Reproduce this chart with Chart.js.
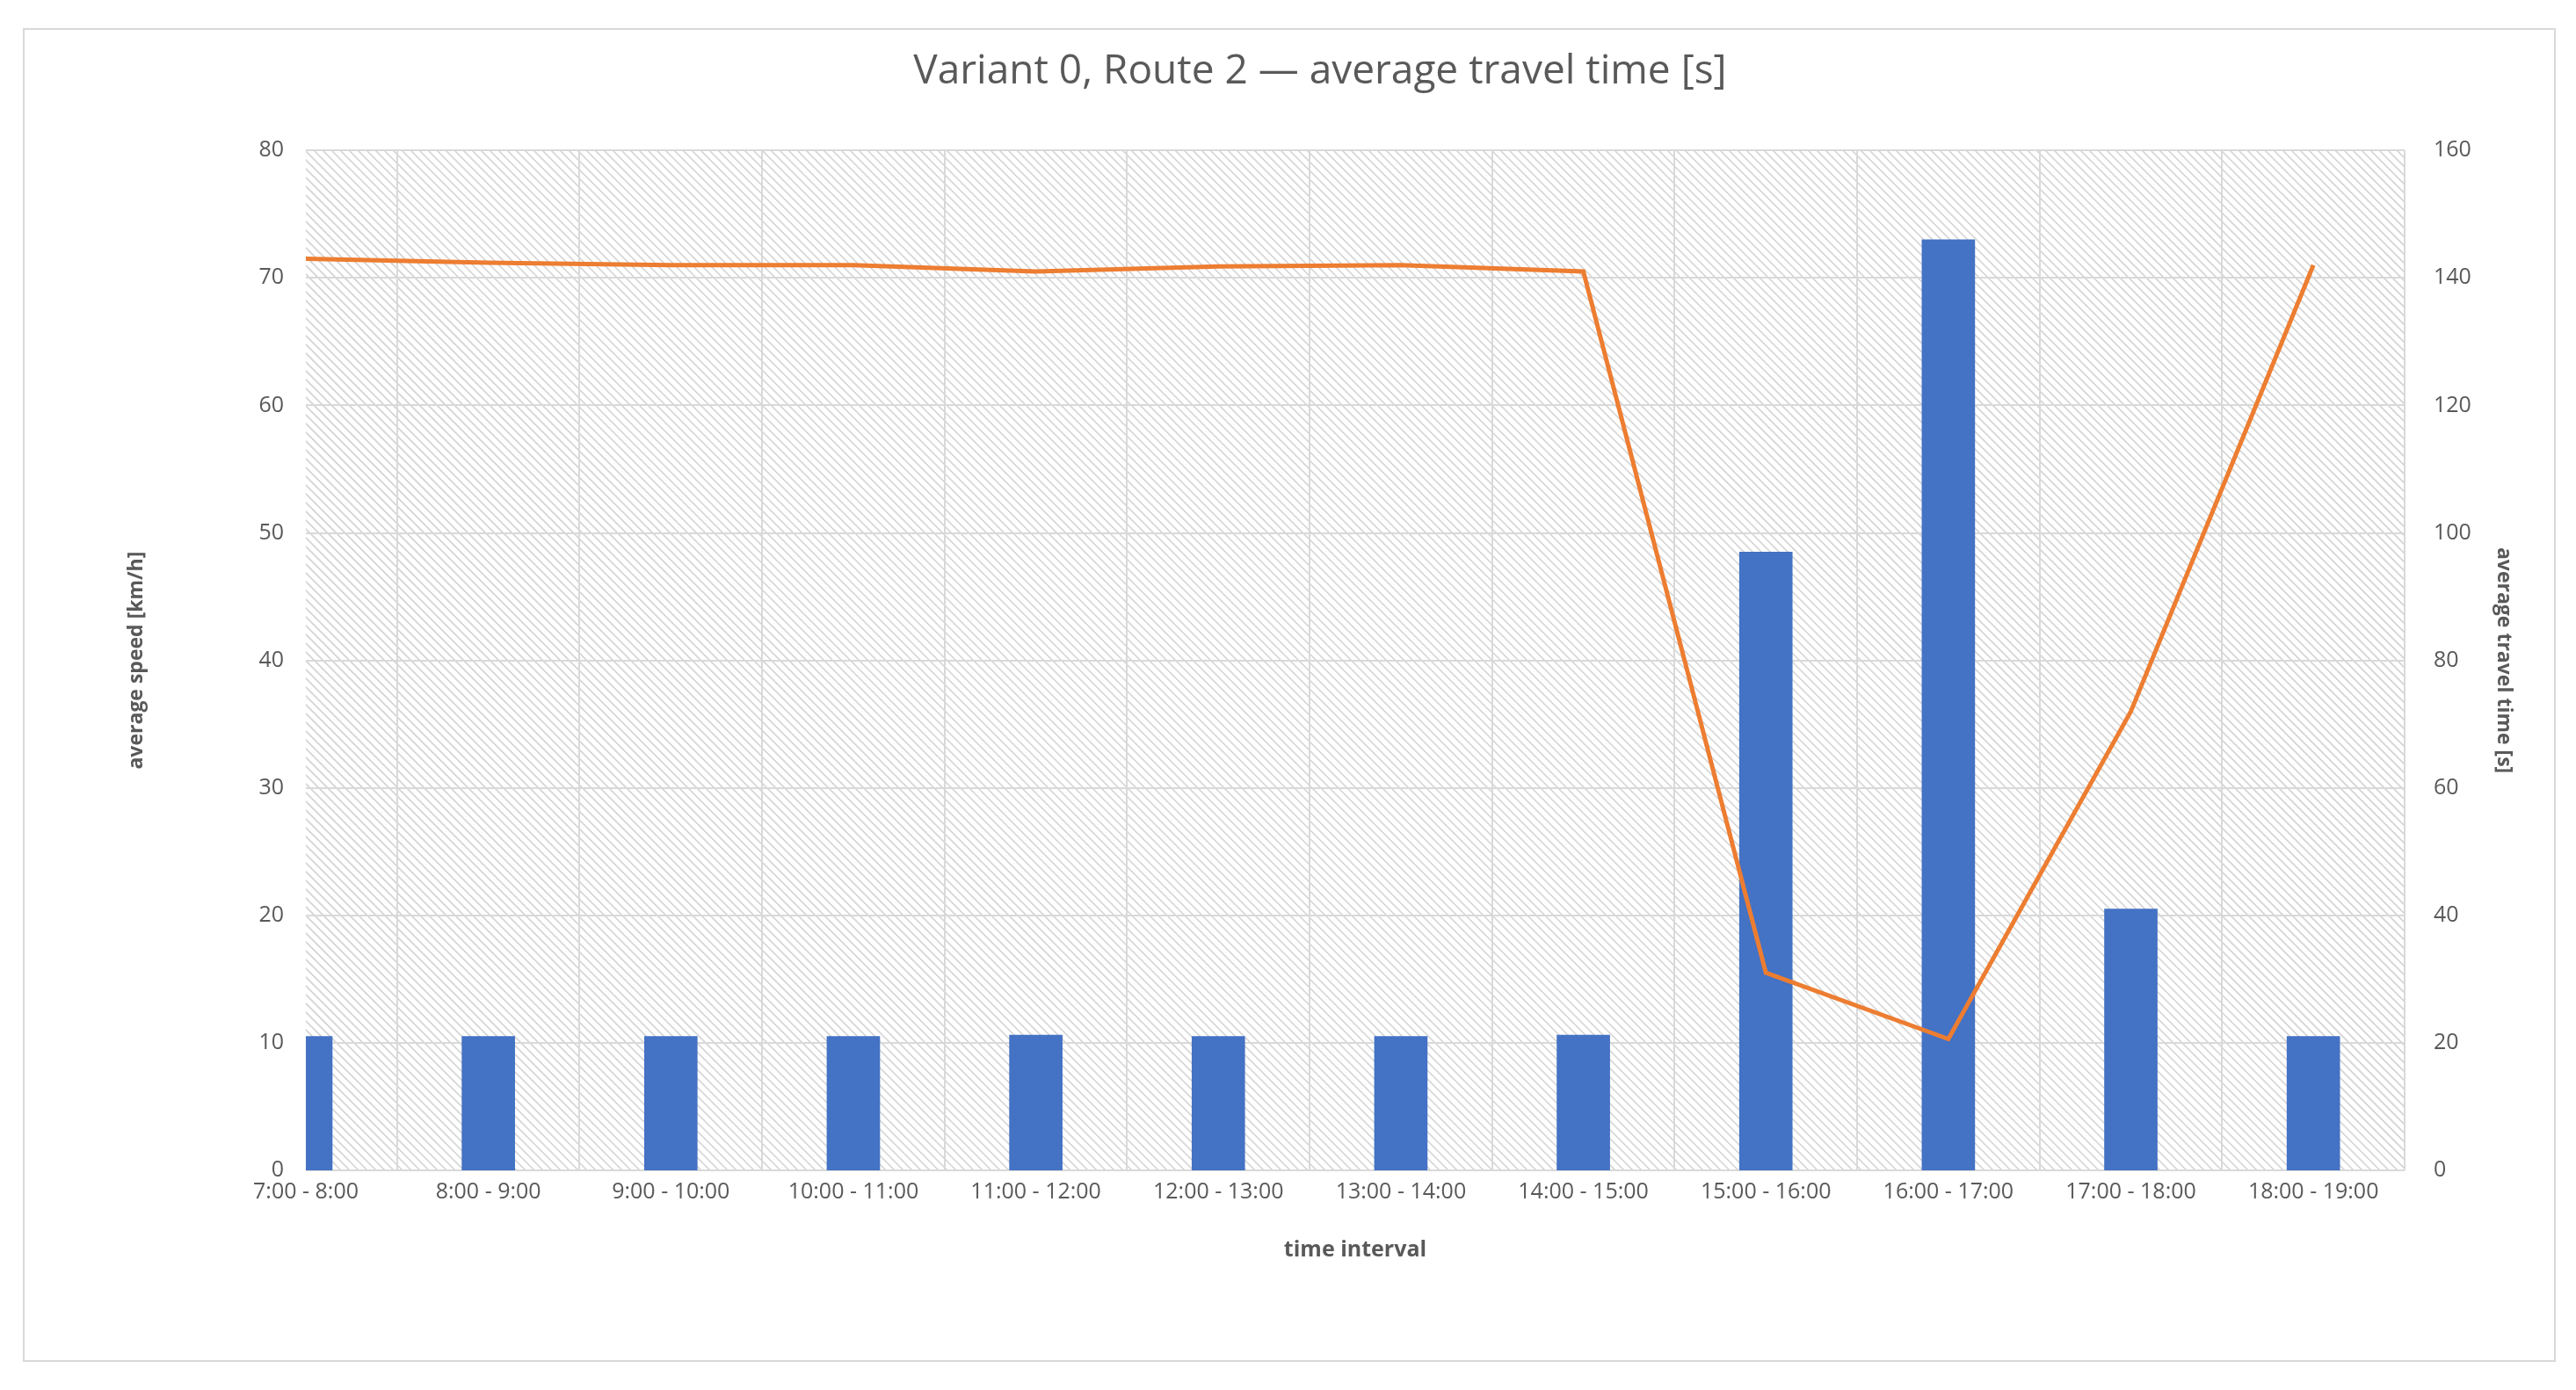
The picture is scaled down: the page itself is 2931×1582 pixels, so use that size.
<!DOCTYPE html>
<html>
<head>
<meta charset="utf-8">
<script src="https://cdn.jsdelivr.net/npm/chart.js@4"></script>
<style>
  body { margin: 0; background: #fff; }
  #box { position: absolute; left: 26px; top: 32px; width: 2878px; height: 1514px; border: 2px solid #d9d9d9; }
</style>
</head>
<body>
<div id="box"><canvas id="chart" width="2878" height="1514"></canvas></div>
<script>
const categories = ['7:00 - 8:00', '8:00 - 9:00', '9:00 - 10:00', '10:00 - 11:00', '11:00 - 12:00', '12:00 - 13:00',
    '13:00 - 14:00', '14:00 - 15:00', '15:00 - 16:00', '16:00 - 17:00', '17:00 - 18:00', '18:00 - 19:00'];
const travelTime = [21, 21, 21, 21, 21.2, 21, 21, 21.2, 97, 146, 41, 21];
const avgSpeed = [71.5, 71.2, 71, 71, 70.5, 70.9, 71, 70.5, 15.5, 10.3, 36, 71];
const speedTicks = [0, 10, 20, 30, 40, 50, 60, 70, 80];
const timeTicks = [0, 20, 40, 60, 80, 100, 120, 140, 160];

const font = 'Open Sans';

// diagonal hatching behind the plot area
const hatch = {
    id: 'hatch',
    beforeDraw(chart) {
        const { ctx, chartArea: a } = chart;
        ctx.save();
        ctx.beginPath();
        ctx.rect(a.left, a.top, a.right - a.left, a.bottom - a.top);
        ctx.clip();
        ctx.strokeStyle = '#d4d4d4';
        ctx.lineWidth = 1.6;
        const h = a.bottom - a.top;
        for (let x = a.left - h; x < a.right + h; x += 10) {
            ctx.beginPath();
            ctx.moveTo(x, a.top);
            ctx.lineTo(x + h, a.bottom);
            ctx.stroke();
        }
        ctx.restore();
    }
};

new Chart(document.getElementById('chart'), {
    data: {
        datasets: [
            {
                type: 'line',
                label: 'average speed [km/h]',
                data: avgSpeed.map((v, i) => ({ x: i, y: v })),
                yAxisID: 'ySpeed',
                borderColor: '#ed7d31',
                borderWidth: 5,
                pointRadius: 0,
                tension: 0,
                order: 0
            },
            {
                type: 'bar',
                label: 'average travel time [s]',
                data: travelTime.map((v, i) => ({ x: i, y: v })),
                yAxisID: 'yTime',
                backgroundColor: '#4472c4',
                barThickness: 60,
                order: 1
            }
        ]
    },
    options: {
        responsive: false,
        animation: false,
        layout: { padding: { top: 20, right: 40, bottom: 106, left: 110 } },
        plugins: {
            legend: { display: false },
            tooltip: { enabled: false },
            title: {
                display: true,
                text: 'Variant 0, Route 2 \u2014 average travel time [s]',
                color: '#595959',
                font: { family: font, size: 46, weight: 'normal' },
                padding: { top: 0, bottom: 62 }
            }
        },
        scales: {
            x: {
                type: 'linear',
                offset: false,
                min: 0,
                max: 11.5,
                afterBuildTicks: axis => { axis.ticks = categories.map((c, i) => ({ value: i })); },
                ticks: {
                    callback: v => categories[v],
                    color: '#595959',
                    font: { family: font, size: 25 },
                    maxRotation: 0,
                    autoSkip: false,
                    padding: 10
                },
                grid: { color: '#d9d9d9', lineWidth: 2, drawTicks: false },
                border: { display: false },
                title: { display: true, text: 'time interval', color: '#595959', font: { family: font, size: 25, weight: 'bold' }, padding: { top: 4 } },
                afterFit: s => { s.height = 110; }
            },
            ySpeed: {
                position: 'left',
                min: 0,
                max: 80,
                afterBuildTicks: axis => { axis.ticks = speedTicks.map(v => ({ value: v })); },
                ticks: { color: '#595959', font: { family: font, size: 25 }, padding: 25 },
                grid: { color: '#d9d9d9', lineWidth: 2, drawTicks: false },
                border: { display: false },
                title: { display: true, text: 'average speed [km/h]', color: '#595959', font: { family: font, size: 23, weight: 'bold' } },
                afterFit: s => { s.width = 210; }
            },
            yTime: {
                position: 'right',
                min: 0,
                max: 160,
                afterBuildTicks: axis => { axis.ticks = timeTicks.map(v => ({ value: v })); },
                ticks: { color: '#595959', font: { family: font, size: 25 }, padding: 25 },
                grid: { display: false },
                border: { display: false },
                title: { display: true, text: 'average travel time [s]', color: '#595959', font: { family: font, size: 23, weight: 'bold' } },
                afterFit: s => { s.width = 130; }
            }
        }
    },
    plugins: [hatch]
});
</script>
</body>
</html>
